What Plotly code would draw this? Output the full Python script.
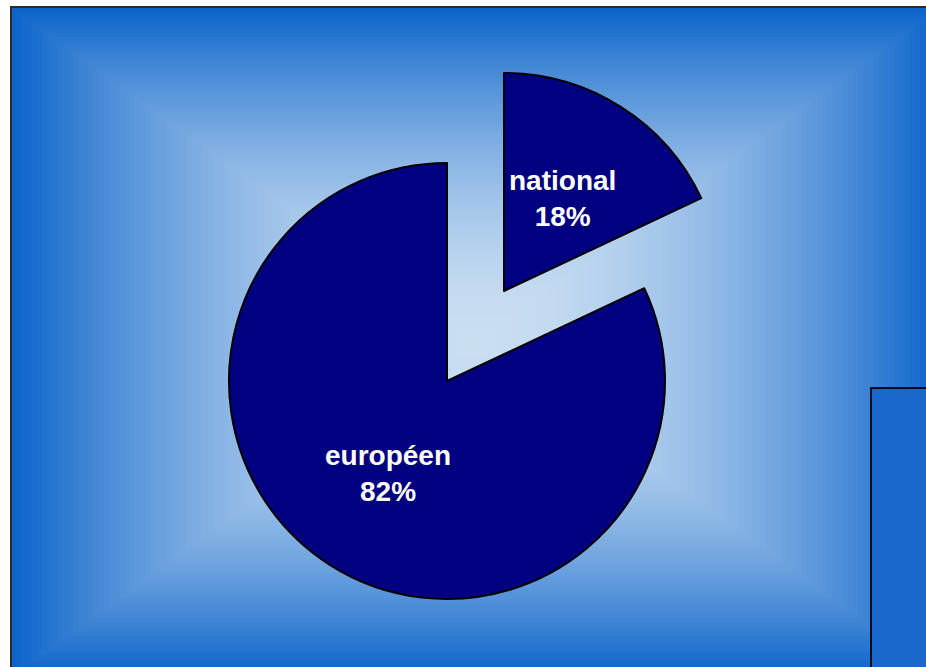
import math
import plotly.graph_objects as go

# ---- data ----
labels = ["national", "européen"]
values = [18, 82]

# ---- figure geometry (pixels in the browser window) ----
W, H = 926, 667
NAVY = "#000080"

def px_x(x):
    return x / W

def px_y(y):
    return 1 - y / H

def dom(cx, cy, r):
    return dict(x=[px_x(cx - r), px_x(cx + r)], y=[px_y(cy + r), px_y(cy - r)])

R = 218
centers = [(504, 291), (447, 381)]  # national (pulled out), européen

common = dict(
    labels=labels,
    values=values,
    sort=False,
    direction="clockwise",
    rotation=0,
    textinfo="none",
    hoverinfo="skip",
    showlegend=False,
)

traces = []
for k in range(len(labels)):
    cols = [NAVY if j == k else "rgba(0,0,0,0)" for j in range(len(labels))]
    lcols = ["black" if j == k else "rgba(0,0,0,0)" for j in range(len(labels))]
    lw = [2 if j == k else 0 for j in range(len(labels))]
    traces.append(go.Pie(
        **common,
        domain=dom(centers[k][0], centers[k][1], R),
        marker=dict(colors=cols, line=dict(color=lcols, width=lw)),
    ))

# ---- slice labels placed along each slice bisector ----
total = sum(values)
annotations = []
cum = 0
for k, (lab, v) in enumerate(zip(labels, values)):
    mid = (cum + v / 2) / total * 2 * math.pi  # clockwise from 12 o'clock
    cum += v
    rr = 0.505 * R
    tx = centers[k][0] + rr * math.sin(mid)
    ty = centers[k][1] - rr * math.cos(mid)
    annotations.append(dict(
        x=px_x(tx), y=px_y(ty), xref="paper", yref="paper",
        xanchor="center", yanchor="middle", showarrow=False,
        text="%s<br>%d%%" % (lab, round(100 * v / total)),
        font=dict(family="Liberation Sans, Arial, sans-serif", size=28,
                  color="white", weight="bold"),
    ))

# ---- rectangular "from center" gradient background ----
edge = (12, 100, 202)
center = (202, 222, 242)
gcx, gcy = 476, 342
left, top = 11, 7
hw, hh = gcx - left, gcy - top
shapes = []
N = 90
for i in range(N, 0, -1):
    t = i / N
    g = t ** 1.8
    col = tuple(int(round(center[c] + (edge[c] - center[c]) * g)) for c in range(3))
    shapes.append(dict(
        type="rect", xref="paper", yref="paper", layer="below",
        x0=px_x(gcx - t * hw), x1=px_x(gcx + t * hw),
        y0=px_y(gcy + t * hh), y1=px_y(gcy - t * hh),
        fillcolor="rgb(%d,%d,%d)" % col, line=dict(width=0),
    ))

def hline(x0, x1, y, color):
    return dict(type="line", xref="paper", yref="paper", layer="below",
                x0=px_x(x0), x1=px_x(x1), y0=px_y(y), y1=px_y(y),
                line=dict(color=color, width=2))

def vline(x, y0, y1, color):
    return dict(type="line", xref="paper", yref="paper", layer="below",
                x0=px_x(x), x1=px_x(x), y0=px_y(y0), y1=px_y(y1),
                line=dict(color=color, width=2))

# chart-area border (only top and left edges are visible in the crop)
shapes.append(hline(left - 1, W + 10, top, "#2a2a2a"))
shapes.append(vline(left, top - 1, H + 10, "#2a2a2a"))
# legend box fragment (cut off at right and bottom)
shapes.append(dict(type="rect", xref="paper", yref="paper", layer="below",
                   x0=px_x(871), x1=px_x(W + 10), y0=px_y(H + 10), y1=px_y(388),
                   fillcolor="#1a68cc", line=dict(width=0)))
shapes.append(hline(870, W + 10, 388, "#0a0a20"))
shapes.append(vline(871, 387, H + 10, "#0a0a20"))

fig = go.Figure(traces)
fig.update_layout(
    width=W, height=H,
    margin=dict(l=0, r=0, t=0, b=0),
    paper_bgcolor="white",
    plot_bgcolor="white",
    shapes=shapes,
    annotations=annotations,
    showlegend=False,
)
fig.write_html(
    "out.html",
    config={"displayModeBar": False},
    post_script="document.body.style.margin='0';document.body.style.overflow='hidden';",
)
